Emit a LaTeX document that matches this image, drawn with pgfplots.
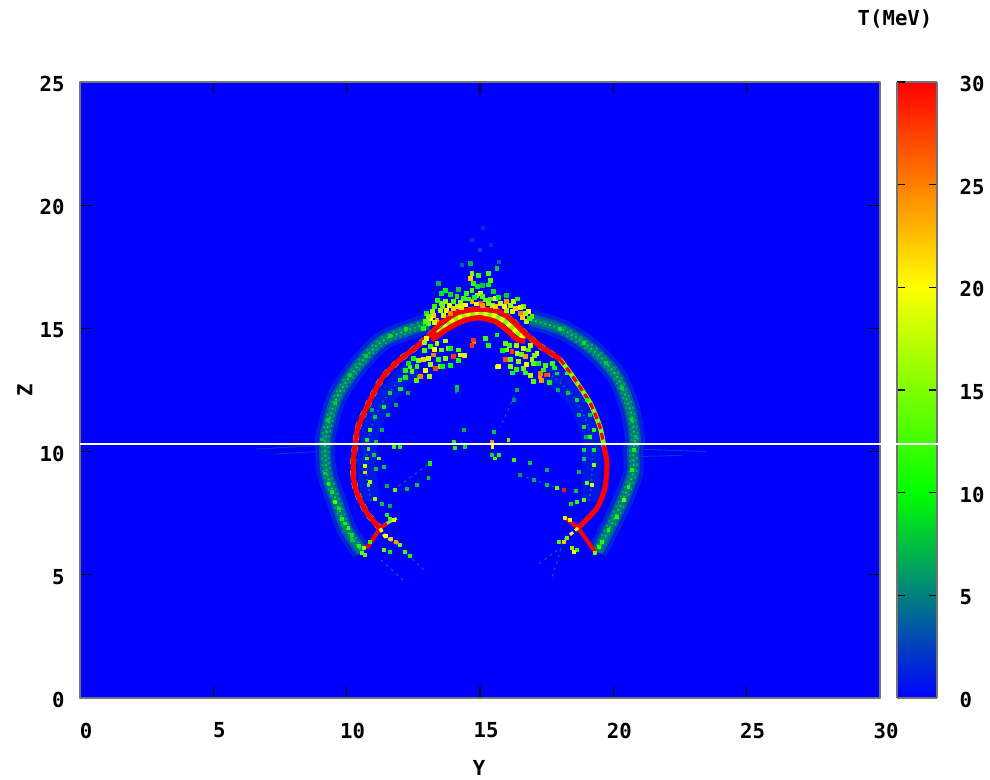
\documentclass[border=0pt]{standalone}
\usepackage{fontspec}
\setmainfont{DejaVu Sans Mono}
\usepackage{pgfplots}
\usepackage{pgfplotstable}
\pgfplotsset{compat=1.18}
\definecolor{gpblue}{RGB}{0,0,255}
\definecolor{tA}{RGB}{0,60,195}
\definecolor{tB}{RGB}{0,105,150}
\definecolor{tC}{RGB}{0,170,85}
\definecolor{tD}{RGB}{0,255,0}
\definecolor{tE}{RGB}{128,255,0}
\definecolor{tF}{RGB}{255,255,0}
\definecolor{tR}{RGB}{255,0,0}
\newcommand{\gpf}{\fontsize{15.5}{16}\selectfont\bfseries}
\pgfplotstableread{
Y Z T
14.69 17.24 15
14.94 17.17 12
15.31 17.24 13
15.38 16.97 13
14.63 17.04 22
14.75 16.83 12
15.31 16.77 10
14.69 16.56 13
15.0 16.43 18
14.88 16.36 16
15.19 16.16 14
14.5 16.43 12
15.63 17.44 8
14.63 17.64 7
14.38 16.23 12
14.13 16.29 10
13.69 16.56 10
13.56 16.43 9
13.44 16.83 7
13.56 16.02 15
13.75 15.75 20
13.5 15.75 17
13.25 15.55 22
13.13 15.42 20
13.06 15.21 14
12.88 15.01 11
13.38 15.35 24
13.63 15.55 18
13.88 15.62 25
14.13 15.89 17
14.44 15.96 20
14.69 16.09 23
15.0 16.02 27
15.31 16.02 15
15.56 16.23 19
15.75 16.02 18
16.0 16.09 24
16.25 16.09 17
16.31 15.82 22
16.5 15.62 25
16.81 15.69 20
16.94 15.48 14
16.75 15.28 17
16.63 15.89 14
16.0 15.75 16
15.56 15.89 22
13.3 15.9 12
13.2 15.7 16
13.0 15.6 10
12.95 15.3 13
13.4 16.15 11
13.7 16.1 15
13.85 15.95 19
14.0 16.1 13
14.25 16.05 16
14.3 15.85 21
14.55 16.2 12
14.85 16.0 19
14.8 16.25 10
15.1 16.3 13
15.1 15.95 24
15.4 16.2 12
15.45 15.95 17
15.7 16.25 10
15.9 15.9 20
16.15 15.95 16
16.4 16.2 11
16.5 15.85 19
16.7 15.6 16
16.85 15.4 12
16.6 15.45 22
16.2 15.7 18
14.0 15.8 22
13.6 15.9 14
13.3 15.25 18
13.05 15.5 15
14.9 16.7 9
15.1 16.75 8
15.5 16.5 9
14.2 16.6 8
13.9 16.4 9
16.0 16.35 8
}\capdata
\pgfplotstableread{
Y Z T
13.13 14.27 12
13.38 14.4 16
13.56 14.13 14
13.25 13.93 25
13.06 13.79 18
12.88 13.73 22
13.31 13.39 27
13.5 13.46 15
12.63 13.46 12
12.44 13.25 14
12.75 13.05 25
13.81 14.2 14
14.0 13.86 28
14.25 13.93 19
14.19 14.13 13
14.75 14.54 28
14.69 14.3 28
15.19 14.6 12
15.31 14.33 11
15.63 14.74 10
15.94 14.4 14
16.0 14.13 15
16.19 14.06 28
15.94 13.73 27
16.38 14.0 17
16.63 14.2 18
16.81 14.13 13
16.69 13.86 24
16.94 13.73 16
16.63 13.39 14
17.0 13.59 14
15.69 13.46 20
17.25 13.19 25
17.5 13.12 27
17.38 13.32 12
17.13 14.0 18
16.13 13.73 13
16.44 13.66 15
13.0 14.6 20
13.7 14.5 17
12.2 13.0 10
12.3 13.6 9
13.9 13.5 10
16.2 13.2 10
17.7 13.6 12
17.3 12.9 24
16.9 13.1 17
12.5 13.8 10
12.9 14.1 13
13.15 13.55 16
12.7 13.7 15
13.45 13.75 12
13.7 13.8 15
13.6 13.45 10
13.9 14.2 10
14.2 13.7 11
14.4 13.9 18
12.95 13.3 20
13.1 13.05 16
12.6 12.9 13
12.2 13.3 11
12.0 12.55 10
12.9 14.45 16
13.3 14.15 20
16.1 14.3 13
16.35 14.3 16
16.55 13.95 14
16.9 14.3 17
16.75 13.55 19
16.35 13.35 11
16.15 13.45 15
17.05 13.9 15
17.2 13.6 10
17.45 13.5 13
16.7 13.2 12
17.6 12.8 10
17.0 12.85 13
17.8 13.4 10
15.85 14.1 10
}\underdata
\pgfplotstableread{
Y Z T
10.81 10.13 12
11.19 9.73 14
10.75 9.73 12
10.69 9.42 18
10.69 9.16 22
10.88 8.78 17
10.81 8.65 14
11.06 8.1 16
11.81 8.44 14
12.25 8.51 8
12.63 8.65 8
13.06 8.92 8
13.1 9.5 10
11.0 9.86 8
11.75 10.2 12
12.0 10.2 11
11.63 7.29 13
11.5 7.43 10
11.75 7.23 20
11.48 6.58 20
11.65 6.48 22
11.85 6.35 24
12.0 6.21 14
12.19 5.94 12
12.38 5.77 11
11.38 6.0 14
11.63 5.94 10
10.63 6.08 16
10.56 5.88 14
10.44 6.17 11
10.69 5.8 13
10.88 6.35 12
10.19 6.42 8
9.31 8.71 10
9.56 7.97 13
9.81 7.29 10
10.06 6.89 12
10.19 6.62 9
9.19 9.12 8
9.44 8.37 9
9.69 7.7 9
9.94 7.09 10
18.19 7.3 18
18.38 7.23 20
18.13 6.35 22
18.25 6.49 14
17.94 6.35 13
18.44 6.08 15
18.63 6.02 12
18.5 5.95 20
19.31 5.88 14
19.44 6.15 12
18.88 8.04 14
18.63 7.97 12
19.0 8.72 14
19.19 8.65 18
19.25 9.46 16
18.13 8.45 29
17.88 8.52 14
17.5 8.65 8
17.0 8.85 7
16.5 9.06 6
19.25 10.07 10
18.88 10.07 9
19.13 10.61 12
17.5 9.26 7
16.88 9.53 8
16.25 9.66 12
15.56 9.73 13
15.44 9.87 9
15.69 9.87 11
15.44 10.41 24
15.46 10.2 20
16.06 10.47 14
14.0 10.41 11
14.06 10.14 11
14.44 10.2 9
13.1 9.53 10
20.75 10.07 10
20.69 9.26 10
20.56 8.58 11
20.38 8.04 13
20.13 7.37 11
19.81 6.83 10
19.56 6.35 11
10.88 10.88 13
11.38 11.83 10
11.63 12.37 9
12.0 12.91 9
12.38 13.45 13
10.75 10.48 10
11.06 11.42 8
12.69 13.04 10
14.13 12.64 8
14.13 12.5 7
16.38 12.5 7
16.25 12.1 6
14.38 10.88 7
15.5 10.81 8
15.63 13.45 18
14.75 14.46 25
14.69 14.29 24
19.0 12.1 10
18.63 12.1 9
18.25 13.18 11
17.88 13.18 9
19.25 10.88 12
18.88 11.02 9
17.25 13.04 24
17.56 13.11 24
11.1 10.4 8
11.3 10.9 7
11.55 11.5 7
11.1 9.3 8
11.4 9.4 8
11.5 8.6 7
11.3 7.9 8
11.6 7.8 7
10.95 11.7 7
11.85 11.9 7
12.3 12.4 7
18.9 9.7 8
18.7 9.2 7
18.6 8.4 8
18.4 7.9 9
18.95 10.6 7
18.7 11.5 7
18.3 12.4 8
17.9 12.5 7
19.1 11.5 8
9.05 10.5 7
9.3 11.3 8
9.55 12.0 8
10.1 13.1 8
10.7 13.9 8
11.6 14.7 9
12.2 15.0 9
18.0 15.0 9
18.9 14.4 9
19.7 13.6 8
20.3 12.6 8
20.7 11.3 8
20.85 10.6 7
15.0 18.2 3
14.7 18.6 2
15.4 18.4 2
15.1 19.1 2
14.3 17.6 4
15.7 17.7 4
}\lowerdata
\pgfplotstableread{
Y Z
13.1 15.2
12.75 15.1
11.36 14.5
10.39 13.43
9.64 12.22
9.26 10.88
9.19 10.19
9.26 9.13
9.64 7.91
10.01 6.82
10.58 5.93
}\ringL
\pgfplotstableread{
Y Z
16.9 15.35
18.11 14.94
19.24 14.12
20.14 13.03
20.63 11.69
20.81 10.47
20.74 10.06
20.74 9.13
20.36 8.04
19.88 6.94
19.39 5.93
}\ringR
\pgfplotstableread{
Y Z
12.7 15.23
11.3 14.62
10.3 13.52
9.53 12.27
9.13 10.9
9.06 10.19
9.13 9.1
9.52 7.85
9.9 6.75
}\ringLo
\pgfplotstableread{
Y Z
12.8 14.97
11.42 14.38
10.48 13.34
9.75 12.17
9.39 10.86
9.32 10.19
9.39 9.16
9.76 7.97
10.12 6.89
10.65 6.0
}\ringLi
\pgfplotstableread{
Y Z
18.15 15.07
19.32 14.23
20.24 13.1
20.75 11.73
20.94 10.47
20.87 10.06
20.87 9.1
20.48 8.0
20.0 6.88
}\ringRo
\pgfplotstableread{
Y Z
18.07 14.81
19.16 14.01
20.04 12.96
20.51 11.65
20.68 10.47
20.61 10.06
20.61 9.16
20.24 8.08
19.76 7.0
19.3 6.0
}\ringRi
\pgfplotstableread{
Y Z
11.25 6.88
10.81 7.43
10.56 7.9
10.35 8.44
10.25 8.98
10.25 9.66
10.31 10.19
10.43 11.0
10.88 12.09
11.36 13.03
12.0 13.73
12.56 14.2
13.13 14.74
13.44 15.14
13.75 15.37
14.06 15.59
14.38 15.71
15.0 15.78
15.63 15.71
16.0 15.51
16.38 15.14
16.75 14.74
17.25 14.29
18.0 13.75
}\arcmain
\pgfplotstableread{
Y Z
18.0 13.75
18.49 13.03
19.13 11.97
19.5 11.0
19.65 10.19
}\arcright
\pgfplotstableread{
Y Z
19.65 10.19
19.76 9.54
19.69 8.56
19.39 7.71
18.68 6.9
}\arclow
\pgfplotstableread{
Y Z
13.19 14.54
13.63 14.87
14.06 15.15
14.5 15.35
15.0 15.43
15.56 15.28
16.0 14.94
16.38 14.56
16.69 14.47
}\strand
\pgfplotstableread{
Y Z
13.4 14.8
13.75 15.1
14.06 15.37
14.5 15.55
15.0 15.6
15.56 15.5
16.0 15.23
16.38 14.85
16.7 14.6
}\between
\begin{document}
\begin{tikzpicture}
\path[use as bounding box] (-60pt,-61.5pt) rectangle (682.5pt,523.5pt);
\begin{axis}[
  at={(0,0)}, anchor=south west,
  scale only axis, width=600pt, height=462pt,
  xmin=0, xmax=30, ymin=0, ymax=25,
  xtick={0,5,...,30}, ytick={0,5,...,25},
  axis background/.style={fill=gpblue},
  axis line style={draw=black!55, line width=0.9pt},
  tick align=inside, major tick length=9pt,
  tick style={black, line width=0.9pt},
  every tick label/.append style={font=\gpf},
  /pgf/number format/assume math mode=true,
  xticklabel style={xshift=4.5pt, yshift=-15pt},
  yticklabel style={yshift=-1.5pt, xshift=-8pt},
  xlabel={Y}, ylabel={Z},
  label style={font=\gpf},
  xlabel style={at={(axis description cs:0.499,-0.114)}, anchor=center},
  ylabel style={at={(axis description cs:-0.069,0.5)}, anchor=center, rotate=0},
  colormap={gp}{rgb255=(0,0,255) rgb255=(0,255,0) rgb255=(255,255,0) rgb255=(255,0,0)},
  colormap name=gp,
  point meta min=0, point meta max=30,
  scatter/use mapped color={draw=mapped color, fill=mapped color},
  line join=round,
]
% faint halo
\addplot[color=tA, line width=0.7pt] coordinates {(6.6,10.1)(8.9,10.25)};
\addplot[color=tA, line width=0.7pt] coordinates {(7.3,9.9)(8.9,10.0)};
\addplot[color=tA, line width=0.7pt] coordinates {(21.0,10.1)(23.5,10.0)};
\addplot[color=tA, line width=0.7pt] coordinates {(21.0,9.8)(22.6,9.85)};
% outer ring
\addplot[smooth, color=tA, line width=15pt, opacity=0.6] table[x=Y,y=Z] {\ringL};
\addplot[smooth, color=tA, line width=15pt, opacity=0.6] table[x=Y,y=Z] {\ringR};
\addplot[smooth, color=tB, line width=9pt, opacity=0.8] table[x=Y,y=Z] {\ringL};
\addplot[smooth, color=tB, line width=9pt, opacity=0.8] table[x=Y,y=Z] {\ringR};
\addplot[smooth, color=tC, line width=5pt, opacity=0.45] table[x=Y,y=Z] {\ringL};
\addplot[smooth, color=tC, line width=5pt, opacity=0.45] table[x=Y,y=Z] {\ringR};
\addplot[smooth, color=tD!70!tC, line width=1.3pt, dash pattern=on 1.2pt off 2.4pt] table[x=Y,y=Z] {\ringL};
\addplot[smooth, color=tD!70!tC, line width=1.3pt, dash pattern=on 1.2pt off 2.4pt] table[x=Y,y=Z] {\ringR};
\addplot[smooth, color=tC, line width=1.2pt, dash pattern=on 1.7pt off 3.1pt] table[x=Y,y=Z] {\ringLo};
\addplot[smooth, color=tC, line width=1.2pt, dash pattern=on 1.7pt off 3.1pt] table[x=Y,y=Z] {\ringRo};
\addplot[smooth, color=tC, line width=1.2pt, dash pattern=on 1.4pt off 2.6pt] table[x=Y,y=Z] {\ringLi};
\addplot[smooth, color=tC, line width=1.2pt, dash pattern=on 1.4pt off 2.6pt] table[x=Y,y=Z] {\ringRi};
% inner rim
\addplot[smooth, color=tA, line width=14pt, opacity=0.4] coordinates {(10.9,8.0)(10.75,9.2)(10.8,10.3)(11.0,11.2)(11.4,12.1)(12.0,12.9)(12.6,13.4)};
\addplot[smooth, color=tA, line width=14pt, opacity=0.4] coordinates {(19.1,8.0)(19.2,9.2)(19.2,10.3)(19.0,11.2)(18.6,12.1)(18.0,12.8)(17.4,13.3)};
\addplot[smooth, color=tB, line width=1.2pt, dash pattern=on 1.3pt off 2.5pt] coordinates {(10.9,8.0)(10.75,9.2)(10.8,10.3)(11.0,11.2)(11.4,12.1)(12.0,12.9)(12.6,13.4)};
\addplot[smooth, color=tB, line width=1.2pt, dash pattern=on 1.3pt off 2.5pt] coordinates {(19.1,8.0)(19.2,9.2)(19.2,10.3)(19.0,11.2)(18.6,12.1)(18.0,12.8)(17.4,13.3)};
% rays
\addplot[color=tB, line width=0.8pt, dash pattern=on 2pt off 3pt] coordinates {(11.74,8.44)(13.13,9.54)};
\addplot[color=tB, line width=0.8pt, dash pattern=on 2pt off 3pt] coordinates {(16.5,9.05)(18.11,8.44)};
\addplot[color=tB, line width=0.8pt, dash pattern=on 2pt off 3pt] coordinates {(16.39,12.5)(15.75,11.0)};
\addplot[color=tB, line width=0.8pt, dash pattern=on 2pt off 3pt] coordinates {(14.1,12.7)(14.1,12.2)};
\addplot[color=tB, line width=0.8pt, dash pattern=on 2pt off 3pt] coordinates {(11.9,6.2)(13.0,5.1)};
\addplot[color=tB, line width=0.8pt, dash pattern=on 2pt off 3pt] coordinates {(17.9,6.0)(17.14,5.4)};
\addplot[color=tB, line width=0.8pt, dash pattern=on 2pt off 3pt] coordinates {(18.11,6.33)(17.7,4.87)};
\addplot[color=tB, line width=0.8pt, dash pattern=on 2pt off 3pt] coordinates {(11.3,5.6)(12.2,4.7)};
% speckle
\addplot[scatter, only marks, mark=square*, mark size=1.1pt, scatter src=explicit] table[x=Y,y=Z,meta=T] {\lowerdata};
\addplot[scatter, only marks, mark=square*, mark size=1.45pt, scatter src=explicit] table[x=Y,y=Z,meta=T] {\underdata};
\addplot[scatter, only marks, mark=square*, mark size=1.45pt, scatter src=explicit] table[x=Y,y=Z,meta=T] {\capdata};
% main ridge
\addplot[smooth, tension=0.4, color=tE, line width=4.4pt, dash pattern=on 4pt off 5pt] table[x=Y,y=Z] {\arcmain};
\addplot[smooth, tension=0.4, color=tE, line width=3.6pt] table[x=Y,y=Z] {\arcright};
\addplot[smooth, tension=0.4, color=tE, line width=3.6pt] table[x=Y,y=Z] {\between};
\addplot[smooth, tension=0.4, color=tF, line width=3.6pt, dash pattern=on 3pt off 3.5pt] table[x=Y,y=Z] {\between};
\addplot[smooth, tension=0.4, color=tR, line width=3.9pt] table[x=Y,y=Z] {\arcmain};
\addplot[smooth, tension=0.4, color=tR, line width=4pt] table[x=Y,y=Z] {\strand};
\addplot[smooth, tension=0.4, color=tR, line width=2.4pt, dash pattern=on 5pt off 3pt] table[x=Y,y=Z] {\arcright};
\addplot[smooth, tension=0.4, color=tR, line width=3.9pt] table[x=Y,y=Z] {\arclow};
% arms of the crossings
\addplot[color=tR, line width=3pt] coordinates {(10.75,6.07)(11.25,6.88)};
\addplot[color=tR, line width=3pt] coordinates {(19.31,5.93)(18.68,6.9)};
\addplot[color=tR, line width=2.8pt] coordinates {(11.25,6.88)(11.5,7.09)};
\addplot[color=tE, line width=2.2pt] coordinates {(11.5,7.09)(11.88,7.29)};
\addplot[color=tF, line width=2.5pt, dash pattern=on 3pt off 2pt] coordinates {(11.25,6.88)(11.44,6.55)(11.94,6.27)};
\addplot[color=tR, line width=2.8pt] coordinates {(18.68,6.9)(18.19,7.31)};
\addplot[color=tF, line width=2.2pt, dash pattern=on 3pt off 2pt] coordinates {(18.68,6.9)(18.35,6.6)(18.11,6.33)};
\end{axis}
% colour bar
\begin{axis}[
  at={(612.75pt,0)}, anchor=south west,
  scale only axis, width=30pt, height=462pt,
  xmin=0, xmax=1, ymin=0, ymax=30,
  xtick=\empty, ytick={0,5,...,30},
  ytick pos=both, yticklabel pos=right,
  tick align=inside, major tick length=6pt,
  tick style={black, line width=0.9pt},
  axis line style={draw=black!55, line width=0.9pt},
  every tick label/.append style={font=\gpf},
  yticklabel style={anchor=west, xshift=13.5pt, yshift=-1.5pt},
  /pgf/number format/assume math mode=true,
  view={0}{90},
  colormap={gp}{rgb255=(0,0,255) rgb255=(0,255,0) rgb255=(255,255,0) rgb255=(255,0,0)},
  colormap name=gp,
  point meta min=0, point meta max=30,
]
\addplot3[surf, shader=interp, point meta=y] coordinates {
(0,0,0) (1,0,0)

(0,10,0) (1,10,0)

(0,20,0) (1,20,0)

(0,30,0) (1,30,0)
};
\end{axis}
% white horizontal line, over plot and colour bar
\begin{axis}[
  at={(0,0)}, anchor=south west, hide axis,
  scale only axis, width=643.5pt, height=462pt,
  xmin=0, xmax=32.175, ymin=0, ymax=25,
]
\addplot[white, line width=1.6pt] coordinates {(0,10.31)(32.175,10.31)};
\end{axis}
\node[font=\gpf, anchor=center] at (611.25pt,509.25pt) {T(MeV)};
\end{tikzpicture}
\end{document}
